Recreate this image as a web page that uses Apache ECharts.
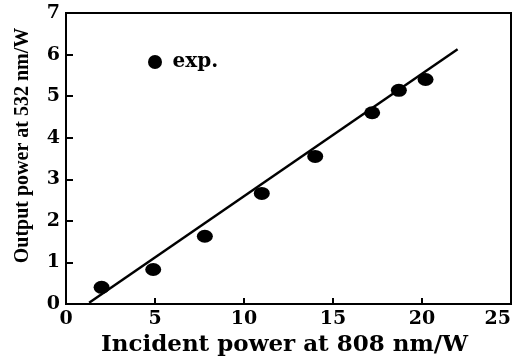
<!DOCTYPE html>
<html>
<head>
<meta charset="utf-8">
<script src="https://cdn.jsdelivr.net/npm/echarts@6/dist/echarts.min.js"></script>
<style>
  html, body { margin: 0; padding: 0; background: #fff; }
  #chart { width: 515px; height: 358px; }
</style>
</head>
<body>
<div id="chart"></div>
<script>
// measured points (incident power, output power)
var expX = [2.0, 4.9, 7.8, 11.0, 14.0, 17.2, 18.7, 20.2];
var expY = [0.40, 0.83, 1.63, 2.66, 3.55, 4.60, 5.14, 5.40];
// fitted line end points
var fitX = [1.3, 22.0];
var fitY = [0.03, 6.13];

var xTicks = [0, 5, 10, 15, 20, 25];
var yTicks = [0, 1, 2, 3, 4, 5, 6, 7];

var font = 'DejaVu Serif';

function pairs(xs, ys) {
  return xs.map(function (x, i) { return [x, ys[i]]; });
}

var myChart = echarts.init(document.getElementById('chart'));
var option = {
  backgroundColor: '#fff',
  animation: false,
  grid: {
    left: 66, right: 4, top: 13, bottom: 54,
    outerBoundsMode: 'none',
    show: true, borderColor: '#000', borderWidth: 2
  },
  legend: {
    data: ['exp.'],
    left: 148, top: 52,
    padding: 0,
    icon: 'circle',
    itemWidth: 15, itemHeight: 14,
    itemGap: 10,
    textStyle: { fontFamily: font, fontWeight: 'bold', fontSize: 20, color: '#000', padding: [0, 0, 0, 5] }
  },
  xAxis: {
    type: 'value',
    min: xTicks[0], max: xTicks[xTicks.length - 1], interval: 5,
    name: 'Incident power at 808 nm/W',
    nameLocation: 'middle', nameGap: 23,
    nameTextStyle: { fontFamily: font, fontWeight: 'bold', fontSize: 23, color: '#000', padding: [0, 8, 0, 0] },
    axisLine: { lineStyle: { color: '#000', width: 2 } },
    axisTick: { inside: true, length: 6, lineStyle: { color: '#000', width: 2 } },
    axisLabel: { fontFamily: font, fontWeight: 'bold', fontSize: 19, color: '#000', margin: 6, alignMaxLabel: 'right' },
    splitLine: { show: false }
  },
  yAxis: {
    type: 'value',
    min: yTicks[0], max: yTicks[yTicks.length - 1], interval: 1,
    name: 'Output power at 532 nm/W',
    nameLocation: 'middle', nameGap: 33,
    nameTextStyle: { fontFamily: 'Liberation Serif', fontWeight: 'bold', fontSize: 20, color: '#000', padding: [0, 0, 0, 26] },
    axisLine: { lineStyle: { color: '#000', width: 2 } },
    axisTick: { inside: true, length: 7, lineStyle: { color: '#000', width: 2 } },
    axisLabel: { fontFamily: font, fontWeight: 'bold', fontSize: 19, color: '#000', margin: 6 },
    splitLine: { show: false }
  },
  series: [
    {
      name: 'fit',
      type: 'line',
      data: pairs(fitX, fitY),
      symbol: 'none',
      lineStyle: { color: '#000', width: 2.5 },
      z: 2
    },
    {
      name: 'exp.',
      type: 'scatter',
      data: pairs(expX, expY),
      symbol: 'circle',
      symbolSize: [16, 13],
      itemStyle: { color: '#000', opacity: 1 },
      z: 3
    }
  ]
};
myChart.setOption(option);
</script>
</body>
</html>
